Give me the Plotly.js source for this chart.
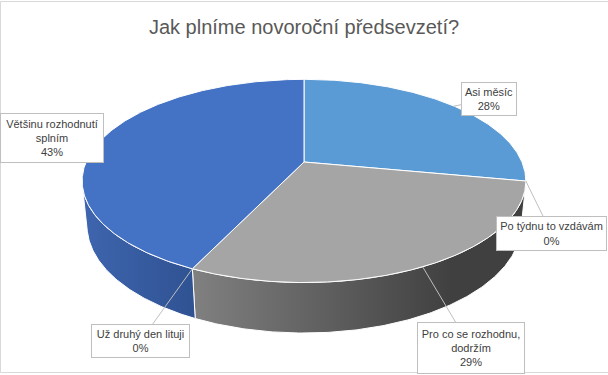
<!DOCTYPE html>
<html>
<head>
<meta charset="utf-8">
<script src="https://cdn.plot.ly/plotly-3.0.1.min.js"></script>
<style>html,body{margin:0;padding:0;background:#fff;}#chart{width:608px;height:375px;}</style>
</head>
<body>
<div id="chart"></div>
<script>
// ---- data ----
var titleText = 'Jak plníme novoroční předsevzetí?';
var categories = ['Asi měsíc', 'Po týdnu to vzdávám', 'Pro co se rozhodnu, dodržím', 'Už druhý den lituji', 'Většinu rozhodnutí splním'];
var labelLines = ['Asi měsíc', 'Po týdnu to vzdávám', 'Pro co se rozhodnu,<br>dodržím', 'Už druhý den lituji', 'Většinu rozhodnutí<br>splním'];
var values = [28, 0, 29, 0, 43];

// ---- styles ----
var topColors = ['#5B9BD5', '#ED7D31', '#A5A5A5', '#FFC000', '#4472C4'];
var sideScales = [
  [[0, '#4a7fb3'], [1, '#3b6a99']],
  [[0, '#c46425'], [1, '#a3521d']],
  [[0, '#808080'], [1, '#404040']],
  [[0, '#d4a000'], [1, '#b08500']],
  [[0, '#3e65ae'], [1, '#2f5292']]
];
var FONT = '"Liberation Sans", Arial, sans-serif';
// label boxes: centre x, centre y, width, height (pixel space)
var boxes = [
  [489, 99, 54, 32],
  [551.5, 233.5, 109, 33],
  [471, 348, 106, 50],
  [140.5, 341, 97, 32],
  [52, 138, 102, 48]
];

// ---- 3D pie geometry (perspective projection) ----
var CX = 304, CY = 162, K = 1044, D = 4.79, SA = 0.45, CA = 0.893, H = 0.23;
function proj(theta, z) {
  var X = Math.sin(theta), Y = Math.cos(theta);
  var depth = D + Y * CA - z * SA;
  var up = Y * SA + z * CA;
  return [CX + K * X / depth, CY - K * up / depth];
}
function arc(a, b, z, xs, ys) {
  var n = Math.max(2, Math.ceil(Math.abs(b - a) / 0.01));
  for (var i = 0; i <= n; i++) {
    var p = proj(a + (b - a) * i / n, z);
    xs.push(p[0]); ys.push(p[1]);
  }
}
var total = values.reduce(function (s, v) { return s + v; }, 0);
var starts = [], ends = [];
var acc = 0;
values.forEach(function (v) {
  starts.push(acc / total * 2 * Math.PI);
  acc += v;
  ends.push(acc / total * 2 * Math.PI);
});
var vis = Math.acos(-1 / (D * CA));
var visA = vis, visB = 2 * Math.PI - vis;

var traces = [];
// sides
values.forEach(function (v, i) {
  if (v <= 0) return;
  var a = Math.max(starts[i], visA), b = Math.min(ends[i], visB);
  if (b <= a) return;
  var xs = [], ys = [];
  arc(a, b, 0, xs, ys);
  arc(b, a, -H, xs, ys);
  xs.push(xs[0]); ys.push(ys[0]);
  var minx = Math.min.apply(null, xs), maxx = Math.max.apply(null, xs);
  traces.push({
    type: 'scatter', mode: 'lines', x: xs, y: ys, fill: 'toself',
    fillcolor: sideScales[i][1][1],
    fillgradient: {type: 'horizontal', colorscale: sideScales[i], start: minx, stop: i === 2 ? minx + (maxx - minx) * 0.78 : maxx},
    line: {color: '#ffffff', width: 1}, hoverinfo: 'skip', showlegend: false
  });
});
// top faces
values.forEach(function (v, i) {
  if (v <= 0) return;
  var xs = [CX], ys = [CY];
  arc(starts[i], ends[i], 0, xs, ys);
  xs.push(CX); ys.push(CY);
  traces.push({
    type: 'scatter', mode: 'lines', x: xs, y: ys, fill: 'toself',
    fillcolor: topColors[i], line: {color: '#ffffff', width: 1},
    hoverinfo: 'text', text: categories[i], showlegend: false
  });
});

// labels
var annotations = values.map(function (v, i) {
  var mid = (starts[i] + ends[i]) / 2;
  var tip = proj(mid, 0);
  var pct = Math.round(v / total * 100) + '%';
  return {
    x: tip[0], y: tip[1], xref: 'x', yref: 'y',
    ax: boxes[i][0], ay: boxes[i][1], axref: 'x', ayref: 'y',
    text: labelLines[i] + '<br>' + pct,
    showarrow: true, arrowhead: 0, arrowwidth: 1, arrowcolor: '#bfbfbf', standoff: 0,
    width: boxes[i][2], height: boxes[i][3], borderpad: 0,
    bgcolor: '#ffffff', bordercolor: '#bfbfbf', borderwidth: 1,
    font: {family: FONT, size: 11, color: '#404040'}, align: 'center'
  };
});

var layout = {
  width: 608, height: 375,
  margin: {l: 0, r: 0, t: 0, b: 0},
  paper_bgcolor: '#ffffff', plot_bgcolor: '#ffffff',
  title: {text: titleText, font: {family: FONT, size: 20, color: '#595959'},
          x: 0.5, xanchor: 'center', y: 1 - 27 / 375, yanchor: 'middle', yref: 'container'},
  xaxis: {range: [0, 608], visible: false, fixedrange: true},
  yaxis: {range: [375, 0], visible: false, fixedrange: true},
  annotations: annotations,
  shapes: [{type: 'rect', xref: 'x', yref: 'y', x0: 0.5, y0: 1.5, x1: 612, y1: 372.5,
            line: {color: '#d9d9d9', width: 1}, fillcolor: 'rgba(0,0,0,0)', layer: 'below'}]
};

Plotly.newPlot('chart', traces, layout, {displayModeBar: false, staticPlot: true});
</script>
</body>
</html>
